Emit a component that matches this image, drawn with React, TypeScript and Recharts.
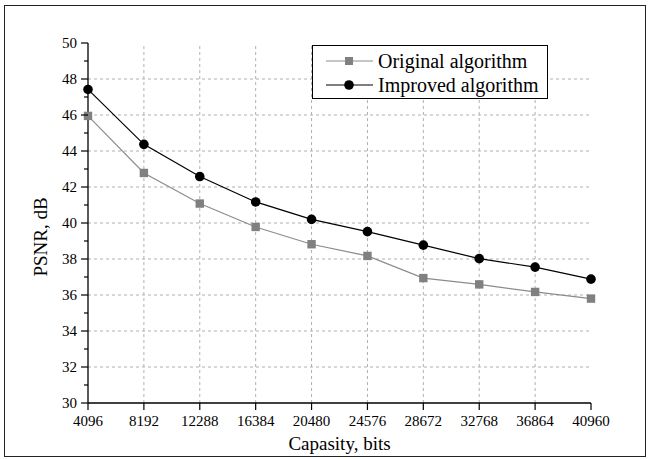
import React from 'react';
import { LineChart, Line, XAxis, YAxis, ReferenceLine, Legend } from 'recharts';

const capacity = [4096, 8192, 12288, 16384, 20480, 24576, 28672, 32768, 36864, 40960];
const original = [45.95, 42.78, 41.08, 39.78, 38.82, 38.17, 36.94, 36.59, 36.17, 35.8];
const improved = [47.42, 44.37, 42.58, 41.17, 40.2, 39.52, 38.77, 38.02, 37.55, 36.88];

const xTicks = [4096, 8192, 12288, 16384, 20480, 24576, 28672, 32768, 36864, 40960];
const yTicks = [30, 31, 32, 33, 34, 35, 36, 37, 38, 39, 40, 41, 42, 43, 44, 45, 46, 47, 48, 49, 50];
const xGrid = [8192, 12288, 16384, 20480, 24576, 28672, 32768, 36864];
const yGrid = [32, 34, 36, 38, 40, 42, 44, 46, 48];

const FONT = '"Liberation Serif", "Times New Roman", serif';
const GRID = '#b0b0b0';

const data = capacity.map((c, i) => ({ x: c, original: original[i], improved: improved[i] }));

const XTick = (props: any) => {
  const { x, y, payload } = props;
  return (
    <g>
      <line x1={x} y1={y} x2={x} y2={y + 7} stroke="#000" strokeWidth={1.2} />
      <text x={x} y={y + 23} textAnchor="middle" fontFamily={FONT} fontSize={15} fill="#000">
        {payload.value}
      </text>
    </g>
  );
};

const YTick = (props: any) => {
  const { x, y, payload } = props;
  const major = payload.value % 2 === 0;
  return (
    <g>
      <line x1={x - (major ? 7 : 4)} y1={y} x2={x} y2={y} stroke="#000" strokeWidth={1.2} />
      {major && (
        <text x={x - 11} y={y} dy="0.35em" textAnchor="end" fontFamily={FONT} fontSize={15} fill="#000">
          {payload.value}
        </text>
      )}
    </g>
  );
};

const LegendBox = () => (
  <div
    style={{
      width: 236,
      height: 54,
      boxSizing: 'border-box',
      border: '1px solid #000',
      background: '#fff',
      fontFamily: FONT,
      fontSize: 20,
      color: '#000',
      paddingTop: 3,
      textAlign: 'left',
    }}
  >
    {[
      { name: 'Original algorithm', color: '#8c8c8c', square: true },
      { name: 'Improved algorithm', color: '#000', square: false },
    ].map((it) => (
      <div key={it.name} style={{ display: 'flex', alignItems: 'center', height: 24, whiteSpace: 'nowrap' }}>
        <svg width={65} height={24} style={{ flex: 'none' }}>
          <line x1={13} y1={12} x2={60} y2={12} stroke={it.color} strokeWidth={1.2} />
          {it.square ? (
            <rect x={32} y={8} width={8} height={8} fill="#808080" />
          ) : (
            <circle cx={36} cy={12} r={4.8} fill="#000" />
          )}
        </svg>
        <span>{it.name}</span>
      </div>
    ))}
  </div>
);

const YLabel = (props: any) => {
  const vb = props.viewBox;
  const cx = vb.x + 46.5;
  const cy = vb.y + vb.height / 2 + 14;
  return (
    <text x={cx} y={cy} transform={`rotate(-90, ${cx}, ${cy})`} textAnchor="middle" fontFamily={FONT} fontSize={19} fill="#000">
      PSNR, dB
    </text>
  );
};

const XLabel = (props: any) => {
  const vb = props.viewBox;
  return (
    <text x={vb.x + vb.width / 2} y={vb.y + 47} textAnchor="middle" fontFamily={FONT} fontSize={19} fill="#000">
      Capasity, bits
    </text>
  );
};

export default function App() {
  return (
    <div style={{ position: 'absolute', left: 0, top: 0, width: 648, height: 459, background: '#fff' }}>
      <div
        style={{
          position: 'absolute',
          left: 4,
          top: 5,
          width: 642,
          height: 452,
          boxSizing: 'border-box',
          border: '1.5px solid #222',
        }}
      />
      <LineChart width={648} height={459} data={data} margin={{ top: 43, right: 57, left: 0, bottom: 0 }}>
        <XAxis
          dataKey="x"
          type="number"
          domain={[4096, 40960]}
          ticks={xTicks}
          interval={0}
          tickSize={0}
          tickMargin={0}
          tickLine={false}
          tick={<XTick />}
          height={56}
          axisLine={{ stroke: '#000', strokeWidth: 1.3 }}
          label={<XLabel />}
        />
        <YAxis
          type="number"
          domain={[30, 50]}
          ticks={yTicks}
          interval={0}
          tickSize={0}
          tickMargin={0}
          tickLine={false}
          tick={<YTick />}
          width={88}
          axisLine={{ stroke: '#000', strokeWidth: 1.3 }}
          label={<YLabel />}
        />
        {yGrid.map((v) => (
          <ReferenceLine key={'y' + v} y={v} stroke={GRID} strokeDasharray="3 3" strokeWidth={1} />
        ))}
        {xGrid.map((v) => (
          <ReferenceLine key={'x' + v} x={v} stroke={GRID} strokeDasharray="3 3" strokeWidth={1} />
        ))}
        <Legend
          layout="horizontal"
          verticalAlign="middle"
          align="center"
          content={<LegendBox />}
          wrapperStyle={{ position: 'absolute', left: 312, top: 45, width: 236, height: 54 }}
        />
        <Line
          dataKey="original"
          stroke="#8c8c8c"
          strokeWidth={1.2}
          isAnimationActive={false}
          dot={(p: any) => <rect key={p.index} x={p.cx - 4.2} y={p.cy - 4.2} width={8.4} height={8.4} fill="#808080" />}
        />
        <Line
          dataKey="improved"
          stroke="#000"
          strokeWidth={1.2}
          isAnimationActive={false}
          dot={(p: any) => <circle key={p.index} cx={p.cx} cy={p.cy} r={4.8} fill="#000" />}
        />
      </LineChart>
    </div>
  );
}
